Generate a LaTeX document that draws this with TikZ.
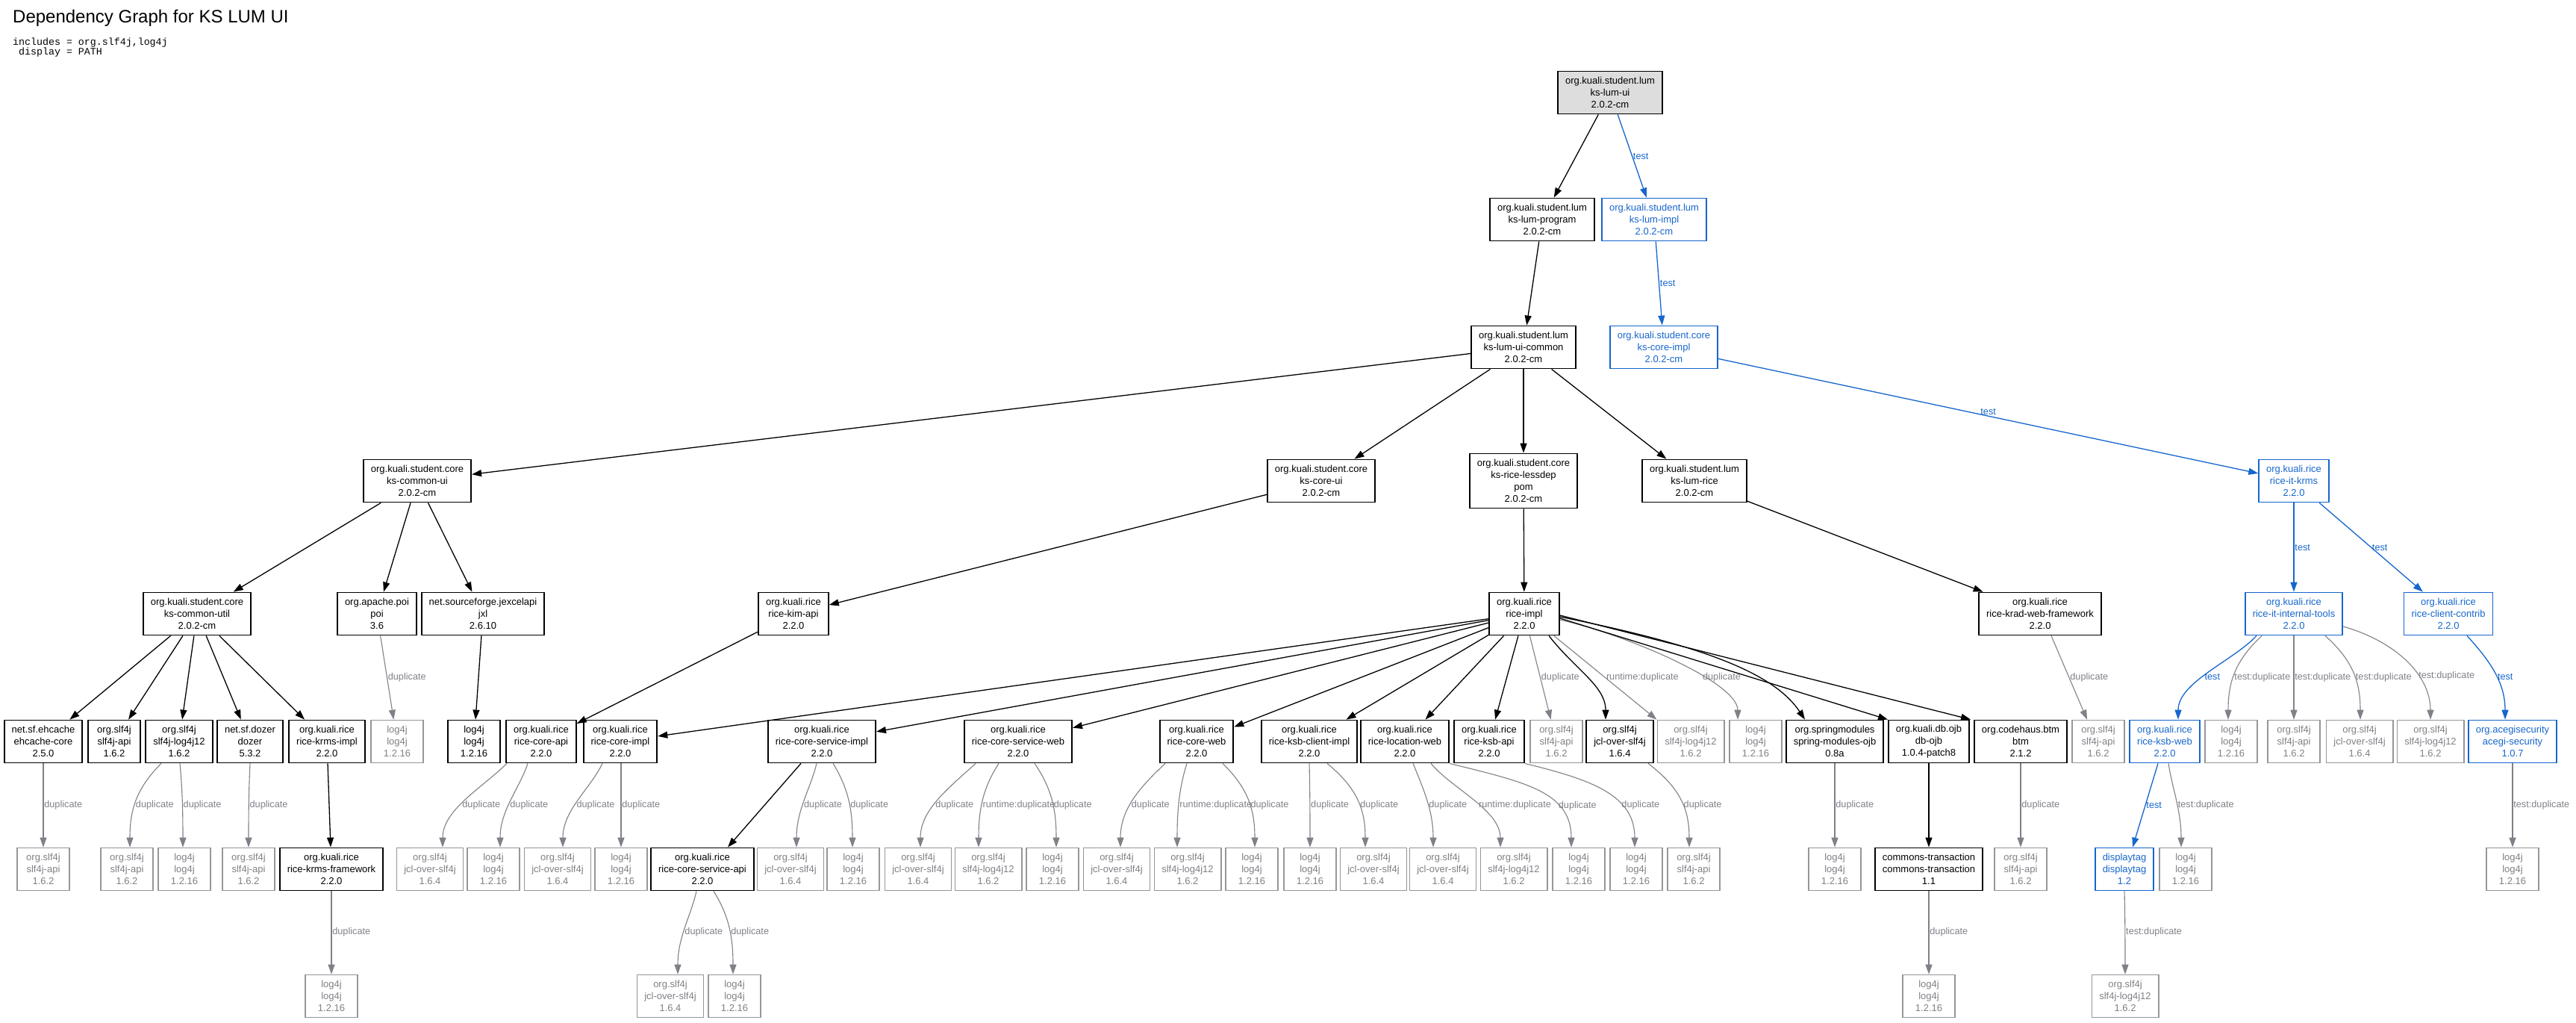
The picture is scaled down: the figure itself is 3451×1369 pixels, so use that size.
\documentclass[tikz,border=0pt]{standalone}
\usepackage{fontspec}
\setmainfont{Liberation Sans}
\setmonofont{Liberation Mono}
\usetikzlibrary{calc,arrows.meta}
\definecolor{kblue}{RGB}{22,102,204}
\definecolor{egray}{RGB}{128,128,136}
\definecolor{ngray}{RGB}{150,150,155}
\definecolor{ntext}{RGB}{128,128,134}
\definecolor{rootfill}{RGB}{221,221,221}
\newcommand\ndfont{\fontsize{13}{16}\selectfont}
\newcommand\lbfont{\fontsize{12.7}{15}\selectfont}
\newcommand\depedge[7][0.8]{%
  \coordinate (s) at ($(#3.south)+(#4,0)$);
  \coordinate (t) at ($(#5.north)+(#6,0)$);
  \coordinate (p) at ($(s)!#1!(t)$);
  \coordinate (q) at ($(s)!0.3!(t)$);
  \draw[#2] (s) .. controls (p |- q) and ($(t)+(0,-50)$) .. (t) node[lbl,pos=0.55]{#7};}
\begin{document}
\begin{tikzpicture}[x=1pt,y=-1pt,
 nd/.style={rectangle, draw, align=center, font=\ndfont, minimum width=70pt, minimum height=57pt, inner xsep=10pt, inner ysep=2pt, line width=1.8pt},
 bn/.style={nd, draw=black, text=black},
 gn/.style={nd, draw=ngray, text=ntext, line width=1.6pt},
 un/.style={nd, draw=kblue, text=kblue},
 rn/.style={bn, fill=rootfill},
 arr/.style={-{Triangle[length=13pt,width=9pt]}},
 eb/.style={arr, line width=1.3pt, color=black},
 eg/.style={arr, line width=1.1pt, color=egray},
 eu/.style={arr, line width=1.3pt, color=kblue},
 lbl/.style={font=\lbfont, anchor=west, inner sep=0.8pt}]
\useasboundingbox (0,0) rectangle (3451,1369);

% title
\node[anchor=base west, inner sep=0, font=\fontsize{24}{28}\selectfont] (title) at (17,30) {Dependency Graph for KS LUM UI};
\node[anchor=base west, inner sep=0, font=\ttfamily\fontsize{13.3}{14}\selectfont] (inc) at (17,60) {includes = org.slf4j,log4j};
\node[anchor=base west, inner sep=0, font=\ttfamily\fontsize{13.3}{14}\selectfont] (disp) at (17,73) {\phantom{x}display = PATH};

% rank 0-3
\node[rn] (lumui) at (2157,124) {org.kuali.student.lum\\ks-lum-ui\\2.0.2-cm};
\node[bn] (program) at (2066,294) {org.kuali.student.lum\\ks-lum-program\\2.0.2-cm};
\node[un] (lumimpl) at (2216,294) {org.kuali.student.lum\\ks-lum-impl\\2.0.2-cm};
\node[bn] (common) at (2041,465) {org.kuali.student.lum\\ks-lum-ui-common\\2.0.2-cm};
\node[un] (coreimpl) at (2229,465) {org.kuali.student.core\\ks-core-impl\\2.0.2-cm};
\node[bn] (commonui) at (559,644) {org.kuali.student.core\\ks-common-ui\\2.0.2-cm};
\node[bn] (coreui) at (1770,644) {org.kuali.student.core\\ks-core-ui\\2.0.2-cm};
\node[bn, minimum height=73pt] (lessdep) at (2041,644) {org.kuali.student.core\\ks-rice-lessdep\\pom\\2.0.2-cm};
\node[bn] (lumrice) at (2270,644) {org.kuali.student.lum\\ks-lum-rice\\2.0.2-cm};
\node[un] (itkrms) at (3073,644) {org.kuali.rice\\rice-it-krms\\2.2.0};

% rank 4
\node[bn] (commonutil) at (264,822) {org.kuali.student.core\\ks-common-util\\2.0.2-cm};
\node[bn] (poi) at (505,822) {org.apache.poi\\poi\\3.6};
\node[bn] (jxl) at (647,822) {net.sourceforge.jexcelapi\\jxl\\2.6.10};
\node[bn] (kimapi) at (1063,822) {org.kuali.rice\\rice-kim-api\\2.2.0};
\node[bn] (riceimpl) at (2042,822) {org.kuali.rice\\rice-impl\\2.2.0};
\node[bn] (krad) at (2733,822) {org.kuali.rice\\rice-krad-web-framework\\2.2.0};
\node[un] (ittools) at (3073,822) {org.kuali.rice\\rice-it-internal-tools\\2.2.0};
\node[un] (contrib) at (3280,822) {org.kuali.rice\\rice-client-contrib\\2.2.0};

% rank 5
\node[bn] (ehcache) at (58,993) {net.sf.ehcache\\ehcache-core\\2.5.0};
\node[bn] (slfapiA) at (153,993) {org.slf4j\\slf4j-api\\1.6.2};
\node[bn] (slflogA) at (240,993) {org.slf4j\\slf4j-log4j12\\1.6.2};
\node[bn] (dozer) at (335,993) {net.sf.dozer\\dozer\\5.3.2};
\node[bn] (krmsimpl) at (438,993) {org.kuali.rice\\rice-krms-impl\\2.2.0};
\node[gn] (log4jA) at (532,993) {log4j\\log4j\\1.2.16};
\node[bn] (log4jB) at (635,993) {log4j\\log4j\\1.2.16};
\node[bn] (coreapi) at (725,993) {org.kuali.rice\\rice-core-api\\2.2.0};
\node[bn] (coreimplR) at (831,993) {org.kuali.rice\\rice-core-impl\\2.2.0};
\node[bn] (csimpl) at (1101,993) {org.kuali.rice\\rice-core-service-impl\\2.2.0};
\node[bn] (csweb) at (1364,993) {org.kuali.rice\\rice-core-service-web\\2.2.0};
\node[bn] (coreweb) at (1603,993) {org.kuali.rice\\rice-core-web\\2.2.0};
\node[bn] (ksbclient) at (1754,993) {org.kuali.rice\\rice-ksb-client-impl\\2.2.0};
\node[bn] (locweb) at (1882,993) {org.kuali.rice\\rice-location-web\\2.2.0};
\node[bn] (ksbapi) at (1995,993) {org.kuali.rice\\rice-ksb-api\\2.2.0};
\node[gn] (slfapiB) at (2085,993) {org.slf4j\\slf4j-api\\1.6.2};
\node[bn] (jclB) at (2170,993) {org.slf4j\\jcl-over-slf4j\\1.6.4};
\node[gn] (slflogB) at (2265,993) {org.slf4j\\slf4j-log4j12\\1.6.2};
\node[gn] (log4jC) at (2352,993) {log4j\\log4j\\1.2.16};
\node[bn] (spring) at (2458,993) {org.springmodules\\spring-modules-ojb\\0.8a};
\node[bn] (dbojb) at (2584,993) {org.kuali.db.ojb\\db-ojb\\1.0.4-patch8};
\node[bn] (btm) at (2707,993) {org.codehaus.btm\\btm\\2.1.2};
\node[gn] (slfapiC) at (2811,993) {org.slf4j\\slf4j-api\\1.6.2};
\node[un] (ksbweb) at (2900,993) {org.kuali.rice\\rice-ksb-web\\2.2.0};
\node[gn] (log4jD) at (2989,993) {log4j\\log4j\\1.2.16};
\node[gn] (slfapiD) at (3073,993) {org.slf4j\\slf4j-api\\1.6.2};
\node[gn] (jclD) at (3161,993) {org.slf4j\\jcl-over-slf4j\\1.6.4};
\node[gn] (slflogD) at (3256,993) {org.slf4j\\slf4j-log4j12\\1.6.2};
\node[un] (acegi) at (3366,993) {org.acegisecurity\\acegi-security\\1.0.7};

% rank 6
\node[gn] (g1) at (58,1164) {org.slf4j\\slf4j-api\\1.6.2};
\node[gn] (g2) at (170,1164) {org.slf4j\\slf4j-api\\1.6.2};
\node[gn] (g3) at (247,1164) {log4j\\log4j\\1.2.16};
\node[gn] (g4) at (333,1164) {org.slf4j\\slf4j-api\\1.6.2};
\node[bn] (krmsfw) at (444,1164) {org.kuali.rice\\rice-krms-framework\\2.2.0};
\node[gn] (g5) at (576,1164) {org.slf4j\\jcl-over-slf4j\\1.6.4};
\node[gn] (g6) at (661,1164) {log4j\\log4j\\1.2.16};
\node[gn] (g7) at (747,1164) {org.slf4j\\jcl-over-slf4j\\1.6.4};
\node[gn] (g8) at (832,1164) {log4j\\log4j\\1.2.16};
\node[bn] (csapi) at (941,1164) {org.kuali.rice\\rice-core-service-api\\2.2.0};
\node[gn] (g9) at (1059,1164) {org.slf4j\\jcl-over-slf4j\\1.6.4};
\node[gn] (g10) at (1143,1164) {log4j\\log4j\\1.2.16};
\node[gn] (g11) at (1230,1164) {org.slf4j\\jcl-over-slf4j\\1.6.4};
\node[gn] (g12) at (1324,1164) {org.slf4j\\slf4j-log4j12\\1.6.2};
\node[gn] (g13) at (1410,1164) {log4j\\log4j\\1.2.16};
\node[gn] (g14) at (1496,1164) {org.slf4j\\jcl-over-slf4j\\1.6.4};
\node[gn] (g15) at (1591,1164) {org.slf4j\\slf4j-log4j12\\1.6.2};
\node[gn] (g16) at (1677,1164) {log4j\\log4j\\1.2.16};
\node[gn] (g17) at (1755,1164) {log4j\\log4j\\1.2.16};
\node[gn] (g18) at (1840,1164) {org.slf4j\\jcl-over-slf4j\\1.6.4};
\node[gn] (g19) at (1933,1164) {org.slf4j\\jcl-over-slf4j\\1.6.4};
\node[gn] (g20) at (2028,1164) {org.slf4j\\slf4j-log4j12\\1.6.2};
\node[gn] (g21) at (2115,1164) {log4j\\log4j\\1.2.16};
\node[gn] (g22) at (2192,1164) {log4j\\log4j\\1.2.16};
\node[gn] (g23) at (2269,1164) {org.slf4j\\slf4j-api\\1.6.2};
\node[gn] (g24) at (2458,1164) {log4j\\log4j\\1.2.16};
\node[bn] (commons) at (2584,1164) {commons-transaction\\commons-transaction\\1.1};
\node[gn] (g25) at (2707,1164) {org.slf4j\\slf4j-api\\1.6.2};
\node[un] (displaytag) at (2846,1164) {displaytag\\displaytag\\1.2};
\node[gn] (g26) at (2928,1164) {log4j\\log4j\\1.2.16};
\node[gn] (g27) at (3366,1164) {log4j\\log4j\\1.2.16};

% rank 7
\node[gn] (h1) at (444,1334) {log4j\\log4j\\1.2.16};
\node[gn] (h2) at (898,1334) {org.slf4j\\jcl-over-slf4j\\1.6.4};
\node[gn] (h3) at (984,1334) {log4j\\log4j\\1.2.16};
\node[gn] (h4) at (2584,1334) {log4j\\log4j\\1.2.16};
\node[gn] (h5) at (2847,1334) {org.slf4j\\slf4j-log4j12\\1.6.2};

% ---- edges: top ----
\draw[eb] (lumui) -- (program);
\draw[eu] (lumui) -- (lumimpl) node[lbl,pos=.5]{test};
\draw[eb] (program) -- (common);
\draw[eu] (lumimpl) -- (coreimpl) node[lbl,pos=.5]{test};
\draw[eb] (common) -- (commonui);
\draw[eb] (common) -- (coreui);
\draw[eb] (common) -- (lessdep);
\draw[eb] (common) -- (lumrice);
\draw[eu] (coreimpl) -- (itkrms) node[lbl,pos=.5,anchor=south]{test};
\draw[eu] (itkrms) -- (ittools) node[lbl,pos=.5]{test};
\draw[eu] (itkrms) -- (contrib) node[lbl,pos=.5]{test};

% ---- rank 3 -> 4 ----
\draw[eb] (commonui) -- (commonutil);
\draw[eb] (commonui) -- (poi);
\draw[eb] (commonui) -- (jxl);
\draw[eb] (coreui) -- (kimapi);
\draw[eb] (lessdep) -- (riceimpl);
\draw[eb] (lumrice) -- (krad);

% ---- rank 4 -> 5 ----
\draw[eb] (commonutil) -- (ehcache);
\draw[eb] (commonutil) -- (slfapiA);
\draw[eb] (commonutil) -- (slflogA);
\draw[eb] (commonutil) -- (dozer);
\draw[eb] (commonutil) -- (krmsimpl);
\draw[eg] (poi) -- (log4jA) node[lbl,pos=.5]{duplicate};
\draw[eb] (jxl) -- (log4jB);
\draw[eb] (kimapi) -- (coreapi);
\draw[eb] (riceimpl) -- (coreimplR);
\draw[eb] (riceimpl) -- (csimpl);
\draw[eb] (riceimpl) -- (csweb);
\draw[eb] (riceimpl) -- (coreweb);
\draw[eb] (riceimpl) -- (ksbclient);
\draw[eb] (riceimpl) -- (locweb);
\draw[eb] (riceimpl) -- (ksbapi);
\draw[eg] (riceimpl) -- (slfapiB) node[lbl,pos=.5]{duplicate};
\draw[eb] ($(riceimpl.south)+(33,0)$) .. controls +(35,45) and +(0,-45) .. ($(jclB.north)+(-19,0)$);
\draw[eg] ($(riceimpl.south east)+(-8,0)$) -- (slflogB.north west) node[lbl,pos=.5]{runtime:duplicate};
\draw[eg] ($(riceimpl.east)+(0,8)$) .. controls +(89,20) and +(0,-50) .. ($(log4jC.north)+(-24,0)$) node[lbl,pos=.64]{duplicate};
\draw[eb] ($(riceimpl.east)+(0,4)$) .. controls +(200,40) and +(-40,-60) .. ($(spring.north)+(-40,0)$);
\draw[eb] ($(riceimpl.east)+(0,6)$) -- (dbojb.north west);
\draw[eb] ($(riceimpl.east)+(0,2)$) -- ($(btm.north west)+(-4,0)$);
\draw[eg] ($(krad.south)+(15,0)$) -- ($(slfapiC.north)+(-15,0)$) node[lbl,pos=.5]{duplicate};
\depedge[0.3]{eu}{ittools}{-50}{ksbweb}{18}{test}
\depedge{eg}{ittools}{-43}{log4jD}{-4}{test:duplicate}
\depedge{eg}{ittools}{0}{slfapiD}{0}{test:duplicate}
\depedge{eg}{ittools}{42}{jclD}{1}{test:duplicate}
\draw[eg] ($(ittools.east)+(0,17)$) .. controls +(70,20) and +(0,-60) .. (slflogD.north) node[lbl,pos=.64]{test:duplicate};
\depedge[0.6]{eu}{contrib}{25}{acegi}{-10}{test}

% ---- rank 5 -> 6 ----
\depedge{eg}{ehcache}{0}{g1}{0}{duplicate}
\depedge{eg}{slflogA}{-24}{g2}{4}{duplicate}
\depedge{eg}{slflogA}{1}{g3}{-2}{duplicate}
\depedge{eg}{dozer}{0}{g4}{0}{duplicate}
\draw[eb] (krmsimpl) -- (krmsfw);
\depedge[0.4]{eg}{coreapi}{-46}{g5}{17}{duplicate}
\depedge[0.3]{eg}{coreapi}{-18}{g6}{9}{duplicate}
\depedge[0.3]{eg}{coreimplR}{-24}{g7}{7}{duplicate}
\depedge{eg}{coreimplR}{1}{g8}{0}{duplicate}
\draw[eb] ($(csimpl.south)+(-28,0)$) -- ($(csapi.north)+(34,0)$);
\depedge[0.3]{eg}{csimpl}{-7}{g9}{8}{duplicate}
\depedge{eg}{csimpl}{15}{g10}{-1}{duplicate}
\depedge[0.5]{eg}{csweb}{-57}{g11}{3}{duplicate}
\depedge{eg}{csweb}{-26}{g12}{-13}{runtime:duplicate}
\depedge{eg}{csweb}{22}{g13}{5}{duplicate}
\depedge[0.6]{eg}{coreweb}{-42}{g14}{5}{duplicate}
\depedge{eg}{coreweb}{-13}{g15}{-14}{runtime:duplicate}
\depedge{eg}{coreweb}{35}{g16}{4}{duplicate}
\depedge{eg}{ksbclient}{0}{g17}{0}{duplicate}
\depedge{eg}{ksbclient}{24}{g18}{-11}{duplicate}
\depedge[0.5]{eg}{locweb}{11}{g19}{-13}{duplicate}
\depedge[0.3]{eg}{locweb}{35}{g20}{-18}{runtime:duplicate}
\draw[eg] (locweb.south east) .. controls +(100,25) and +(0,-75) .. ($(g21.north)+(-10,0)$) node[lbl,pos=.68]{duplicate};
\draw[eg] (ksbapi.south east) .. controls +(90,22) and +(0,-70) .. ($(g22.north)+(-2,0)$) node[lbl,pos=.66]{duplicate};
\depedge{eg}{jclB}{38}{g23}{-6}{duplicate}
\depedge{eg}{spring}{0}{g24}{0}{duplicate}
\draw[eb] (dbojb) -- (commons);
\depedge{eg}{btm}{0}{g25}{0}{duplicate}
\draw[eu] ($(ksbweb.south)+(-9,0)$) -- ($(displaytag.north)+(11,0)$) node[lbl,pos=.5]{test};
\depedge[0.3]{eg}{ksbweb}{5}{g26}{-6}{test:duplicate}
\depedge{eg}{acegi}{0}{g27}{0}{test:duplicate}

% ---- rank 6 -> 7 ----
\depedge{eg}{krmsfw}{0}{h1}{0}{duplicate}
\depedge[0.3]{eg}{csapi}{-8}{h2}{10}{duplicate}
\depedge{eg}{csapi}{15}{h3}{-2}{duplicate}
\depedge{eg}{commons}{0}{h4}{0}{duplicate}
\depedge{eg}{displaytag}{0}{h5}{0}{test:duplicate}
\end{tikzpicture}
\end{document}
